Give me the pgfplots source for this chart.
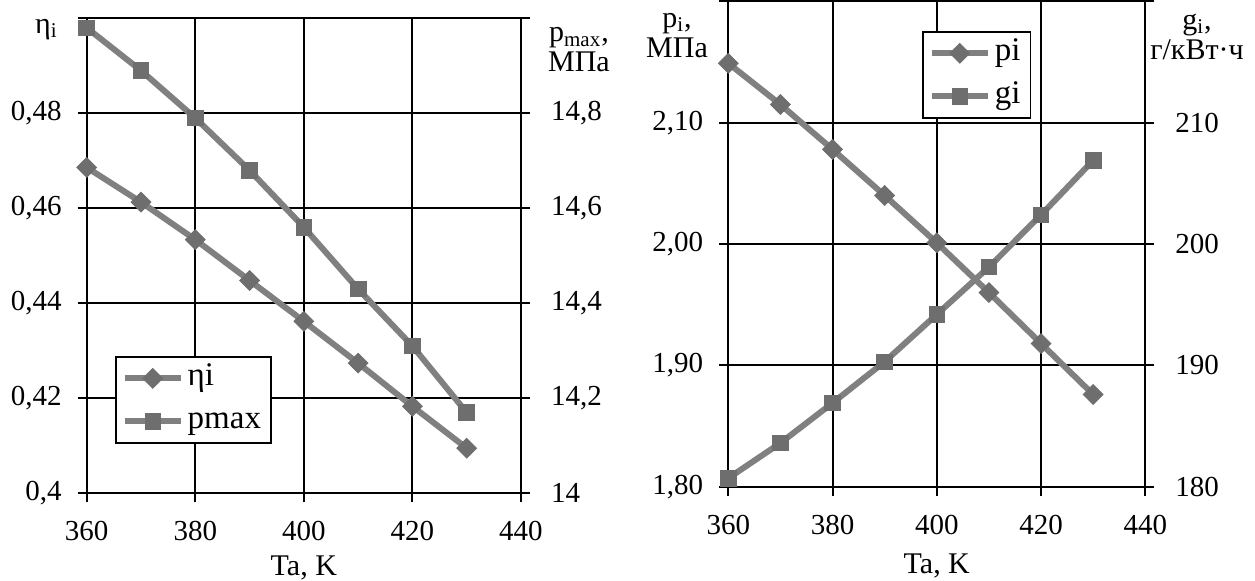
\documentclass[border=0pt]{standalone}
\usepackage{pgfplots}
\pgfplotsset{compat=1.18}
\usepackage{pgfplotstable}
\usepackage{fontspec}
\setmainfont{Liberation Serif}

\definecolor{ln}{RGB}{128,128,128}
\definecolor{mk}{RGB}{110,110,110}

\pgfplotstableread{
T    eta     pmax   pi     gi
360  0.4686  14.98  2.149  180.7
370  0.4613  14.89  2.115  183.6
380  0.4534  14.79  2.078  186.9
390  0.4448  14.68  2.040  190.3
400  0.4362  14.56  2.001  194.2
410  0.4274  14.43  1.960  198.1
420  0.4183  14.31  1.918  202.4
430  0.4095  14.17  1.876  206.9
}\data

\newcommand{\twoline}[2]{\begin{tabular}[b]{@{}c@{}}#1\\#2\end{tabular}}

\begin{document}
\begin{tikzpicture}
\useasboundingbox (0,0) rectangle (627.5pt,290.5pt);
\pgfplotsset{
  base/.style={
    scale only axis, clip=false,
    xmin=360, xmax=440, xtick={360,380,400,420,440},
    /pgf/number format/assume math mode=true,
    axis line style={black, line width=1.1pt},
    tick style={black, line width=1pt},
    major tick length=4.5pt, tick align=outside,
    ticklabel style={font=\fontsize{14.5}{16}\selectfont},
    xticklabel style={yshift=-6pt},
    label style={font=\fontsize{15}{15}\selectfont},
    legend style={draw=black, line width=0.8pt, fill=white,
      font=\fontsize{16.5}{18}\selectfont, inner xsep=3pt, inner ysep=1pt,
      row sep=2pt, cells={anchor=west},
      nodes={inner sep=2pt, text height=11.5pt, text depth=4pt}},
    legend image code/.code={
      \draw[mark repeat=2, mark phase=2, ##1] plot coordinates {(0pt,0pt) (14pt,0pt) (28pt,0pt)};},
  },
  first/.style={
    grid=major, major grid style={black, line width=1pt},
    xtick pos=bottom, ytick pos=left,
    yticklabel style={xshift=-4.5pt},
  },
  second/.style={
    axis y line*=right, axis x line=none,
    yticklabel style={xshift=7pt},
  },
  sdiam/.style={color=ln, line width=3pt, mark=square*,
    mark options={rotate=45, fill=mk, draw=mk, line width=0.4pt, solid}, mark size=3.5pt},
  ssq/.style={color=ln, line width=3pt, mark=square*,
    mark options={fill=mk, draw=mk, line width=0.4pt, solid}, mark size=3.9pt},
}

% ---------------- left panel ----------------
\begin{axis}[base, first,
  at={(43.35pt,43.85pt)}, anchor=south west, width=217.15pt, height=237.5pt,
  ymin=0.4, ymax=0.5, ytick={0.4,0.42,0.44,0.46,0.48,0.5},
  yticklabels={{0,4},{0,42},{0,44},{0,46},{0,48},{}},
  xlabel={Ta, K},
  xlabel style={at={(axis description cs:0.5,-0.1735)}, anchor=base},
  ylabel={η\textsubscript{i}},
  ylabel style={rotate=-90, at={(axis description cs:-0.135,0.969)}, anchor=base west},
]
\addplot[sdiam] table[x=T, y=eta] {\data};
\end{axis}
\begin{axis}[base, second,
  at={(43.35pt,43.85pt)}, anchor=south west, width=217.15pt, height=237.5pt,
  ymin=14, ymax=15, ytick={14,14.2,14.4,14.6,14.8,15},
  yticklabels={{14},{14,2},{14,4},{14,6},{14,8},{}},
  ylabel={\twoline{p\textsubscript{max},}{МПа}},
  ylabel style={rotate=-90, at={(axis description cs:1.1335,0.887)}, anchor=base},
  legend style={at={(0.065,0.289)}, anchor=north west},
]
\addlegendimage{sdiam}
\addlegendentry{ηi}
\addplot[ssq] table[x=T, y=pmax] {\data};
\addlegendentry{pmax}
\end{axis}

% ---------------- right panel ----------------
\begin{axis}[base, first,
  at={(364.15pt,47.15pt)}, anchor=south west, width=208.5pt, height=242.65pt,
  ymin=1.8, ymax=2.2, ytick={1.8,1.9,2.0,2.1,2.2},
  yticklabels={{1,80},{1,90},{2,00},{2,10},{}},
  xlabel={Ta, K},
  xlabel style={at={(axis description cs:0.5,-0.178)}, anchor=base},
  ylabel={\twoline{p\textsubscript{i},}{МПа}},
  ylabel style={rotate=-90, at={(axis description cs:-0.123,0.8854)}, anchor=base},
]
\addplot[sdiam] table[x=T, y=pi] {\data};
\end{axis}
\begin{axis}[base, second,
  at={(364.15pt,47.15pt)}, anchor=south west, width=208.5pt, height=242.65pt,
  ymin=180, ymax=220, ytick={180,190,200,210,220},
  yticklabels={{180},{190},{200},{210},{}},
  ylabel={\twoline{g\textsubscript{i},}{г/кВт·ч}},
  ylabel style={rotate=-90, at={(axis description cs:1.124,0.880)}, anchor=base},
  legend style={at={(0.4645,0.939)}, anchor=north west},
]
\addlegendimage{sdiam}
\addlegendentry{pi}
\addplot[ssq] table[x=T, y=gi] {\data};
\addlegendentry{gi}
\end{axis}
\end{tikzpicture}
\end{document}
